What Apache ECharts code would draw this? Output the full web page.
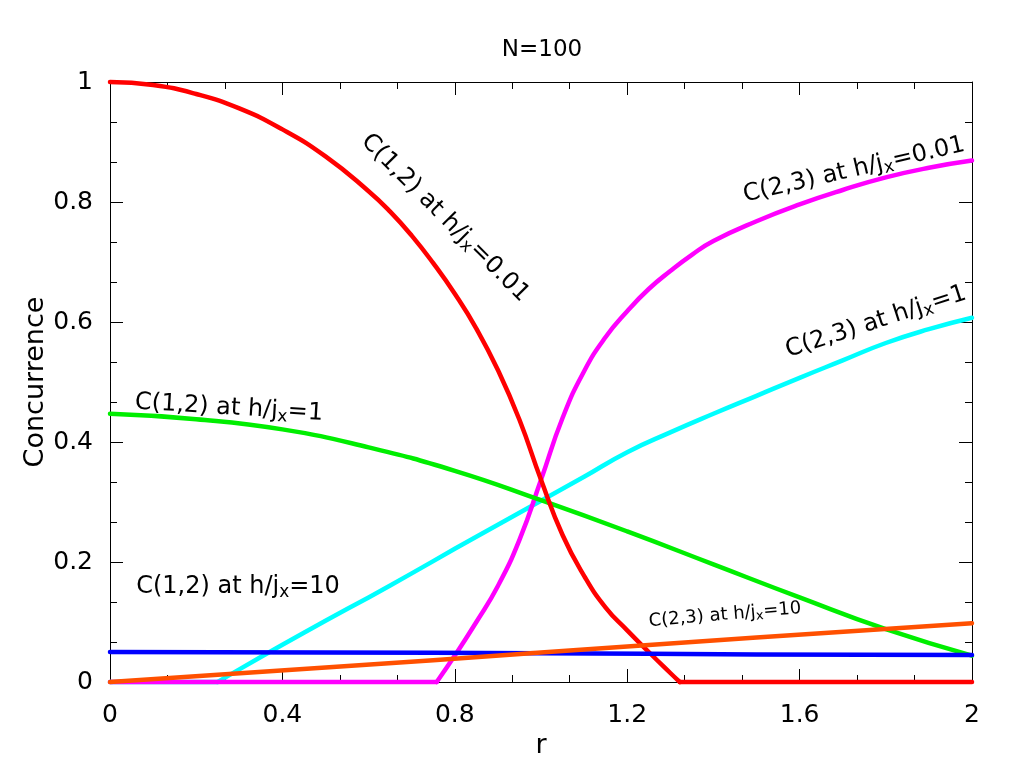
<!DOCTYPE html>
<html>
<head>
<meta charset="utf-8">
<script src="https://cdn.jsdelivr.net/npm/echarts@6/dist/echarts.min.js"></script>
<style>
  html, body { margin: 0; padding: 0; background: #fff; }
  #chart { width: 1024px; height: 768px; }
</style>
</head>
<body>
<div id="chart"></div>
<script>
// values, r on x, concurrence on y
var xTicks = [0, 0.4, 0.8, 1.2, 1.6, 2];
var yTicks = [0, 0.2, 0.4, 0.6, 0.8, 1];

// C(1,2) at h/jx=0.01 (red): curved part, then zero
var c12LowR = [0, 0.1, 0.2, 0.3, 0.4, 0.5, 0.6, 0.65, 0.7, 0.75, 0.8, 0.85, 0.9, 0.95, 1.0, 1.05, 1.1, 1.15, 1.2, 1.25, 1.3, 1.322];
var c12LowC = [1.0, 0.995, 0.98, 0.956, 0.921, 0.876, 0.818, 0.784, 0.744, 0.698, 0.647, 0.589, 0.52, 0.437, 0.337, 0.245, 0.177, 0.124, 0.086, 0.05, 0.015, 0];
var c12LowZeroR = [1.322, 2.0];
var c12LowZeroC = [0, 0];

// C(2,3) at h/jx=0.01 (magenta): zero, then curved part
var c23LowZeroR = [0, 0.758];
var c23LowZeroC = [0, 0];
var c23LowR = [0.758, 0.8, 0.85, 0.9, 0.95, 1.0, 1.05, 1.1, 1.15, 1.2, 1.25, 1.3, 1.35, 1.4, 1.5, 1.6, 1.7, 1.8, 1.9, 2.0];
var c23LowC = [0, 0.044, 0.1, 0.16, 0.237, 0.337, 0.44, 0.518, 0.575, 0.618, 0.655, 0.685, 0.712, 0.735, 0.768, 0.796, 0.82, 0.841, 0.857, 0.869];

// C(1,2) at h/jx=1 (green)
var c12MidR = [0, 0.2, 0.4, 0.6, 0.8, 1.0, 1.2, 1.4, 1.6, 1.8, 2.0];
var c12MidC = [0.447, 0.438, 0.421, 0.391, 0.352, 0.303, 0.251, 0.196, 0.141, 0.088, 0.044];

// C(2,3) at h/jx=1 (cyan): zero, then rising
var c23MidZeroR = [0, 0.25];
var c23MidZeroC = [0, 0];
var c23MidR = [0.25, 0.3, 0.4, 0.5, 0.6, 0.7, 0.8, 0.9, 1.0, 1.1, 1.2, 1.3, 1.4, 1.5, 1.6, 1.7, 1.8, 1.9, 2.0];
var c23MidC = [0, 0.021, 0.062, 0.102, 0.141, 0.181, 0.222, 0.262, 0.302, 0.342, 0.383, 0.416, 0.447, 0.477, 0.507, 0.536, 0.565, 0.588, 0.607];

// C(1,2) at h/jx=10 (blue)
var c12HighR = [0, 0.5, 1.0, 1.5, 2.0];
var c12HighC = [0.05, 0.049, 0.048, 0.046, 0.045];

// C(2,3) at h/jx=10 (orange)
var c23HighR = [0, 0.5, 1.0, 1.5, 2.0];
var c23HighC = [0, 0.024, 0.049, 0.074, 0.098];

var pairs = function (xs, ys) {
    var out = [];
    for (var i = 0; i < xs.length; i++) {
        out.push([xs[i], ys[i]]);
    }
    return out;
};

var curve = function (name, color, xs, ys) {
    return {
        name: name,
        type: 'line',
        xAxisIndex: 0,
        yAxisIndex: 0,
        data: pairs(xs, ys),
        showSymbol: false,
        smooth: 0.5,
        clip: false,
        lineStyle: { color: color, width: 4.5, cap: 'round', join: 'round' },
        itemStyle: { color: color },
        silent: true
    };
};

var FONT = '"DejaVu Sans", Verdana, sans-serif';

// rich text with a lowered small x for j_x
var label = function (head, tail, x, y, deg, size) {
    return {
        type: 'text',
        x: x,
        y: y,
        rotation: deg * Math.PI / 180,
        silent: true,
        style: {
            text: '{a|' + head + '}{s|x}{a|' + tail + '}',
            align: 'center',
            verticalAlign: 'middle',
            fill: '#000',
            rich: {
                a: { fontSize: size, fontFamily: FONT, fill: '#000' },
                s: { fontSize: Math.round(size * 0.72), fontFamily: FONT, fill: '#000', padding: [Math.round(size * 0.45), 0, 0, 0] }
            }
        }
    };
};

var fmt = function (list) {
    return function (v) {
        var k = Math.round(v * 10) / 10;
        return list.indexOf(k) >= 0 ? String(k) : '';
    };
};

// one axis draws line, long ticks and labels; a twin draws the short ticks
var axis = function (pos, max, step, withLabels) {
    var a = {
        type: 'value',
        min: 0, max: max, interval: step,
        position: pos,
        axisLine: { show: true, onZero: false, lineStyle: { color: '#000', width: 1 } },
        axisTick: { inside: true, length: 13, lineStyle: { color: '#000', width: 1 } },
        splitLine: { show: false },
        axisLabel: { show: false }
    };
    if (withLabels) {
        a.axisLabel = {
            show: true, fontFamily: FONT, fontSize: 25, color: '#000',
            margin: pos === 'bottom' ? 21 : 17,
            formatter: fmt(pos === 'bottom' ? xTicks : yTicks)
        };
    }
    return a;
};
var minorAxis = function (pos, max, step) {
    return {
        type: 'value',
        min: 0, max: max, interval: step,
        position: pos,
        axisLine: { show: false, onZero: false },
        axisTick: { inside: true, length: 7, lineStyle: { color: '#000', width: 1 } },
        splitLine: { show: false },
        axisLabel: { show: false }
    };
};

var xMain = axis('bottom', 2, 0.4, true);
xMain.name = 'r';
xMain.nameLocation = 'middle';
xMain.nameGap = 50;
xMain.nameMoveOverlap = false;
xMain.nameTextStyle = { fontFamily: FONT, fontSize: 27, color: '#000' };

var yMain = axis('left', 1, 0.2, true);
yMain.name = 'Concurrence';
yMain.nameLocation = 'middle';
yMain.nameGap = 61;
yMain.nameMoveOverlap = false;
yMain.nameTextStyle = { fontFamily: FONT, fontSize: 27, color: '#000' };

var option = {
    backgroundColor: '#fff',
    animation: false,
    title: {
        text: 'N=100',
        left: 537,
        top: 34,
        textAlign: 'center',
        textStyle: { fontFamily: FONT, fontSize: 23, fontWeight: 'normal', color: '#000' }
    },
    grid: { left: 110, right: 52, top: 82, bottom: 86, outerBoundsMode: 'none' },
    xAxis: [
        xMain,
        axis('top', 2, 0.4, false),
        minorAxis('bottom', 2, 0.4 / 3),
        minorAxis('top', 2, 0.4 / 3)
    ],
    yAxis: [
        yMain,
        axis('right', 1, 0.2, false),
        minorAxis('left', 1, 0.2 / 3),
        minorAxis('right', 1, 0.2 / 3)
    ],
    series: [
        curve('C(2,3) h/jx=1', '#00ffff', c23MidZeroR, c23MidZeroC),
        curve('C(2,3) h/jx=1', '#00ffff', c23MidR, c23MidC),
        curve('C(2,3) h/jx=0.01', '#ff00ff', c23LowZeroR, c23LowZeroC),
        curve('C(2,3) h/jx=0.01', '#ff00ff', c23LowR, c23LowC),
        curve('C(1,2) h/jx=1', '#00ee00', c12MidR, c12MidC),
        curve('C(1,2) h/jx=0.01', '#ff0000', c12LowR, c12LowC),
        curve('C(1,2) h/jx=0.01', '#ff0000', c12LowZeroR, c12LowZeroC),
        curve('C(1,2) h/jx=10', '#0000ff', c12HighR, c12HighC),
        curve('C(2,3) h/jx=10', '#ff5000', c23HighR, c23HighC)
    ],
    graphic: [
        label('C(1,2) at h/j', '=0.01', 445, 218, -45, 24),
        label('C(2,3) at h/j', '=0.01', 854, 170, 13, 24),
        label('C(2,3) at h/j', '=1', 876, 322, 18, 24),
        label('C(1,2) at h/j', '=1', 229, 408, -3.5, 24),
        label('C(1,2) at h/j', '=10', 238, 587, 0, 24),
        label('C(2,3) at h/j', '=10', 725, 615, 5, 18)
    ]
};

var myChart = echarts.init(document.getElementById('chart'));
myChart.setOption(option);
</script>
</body>
</html>
